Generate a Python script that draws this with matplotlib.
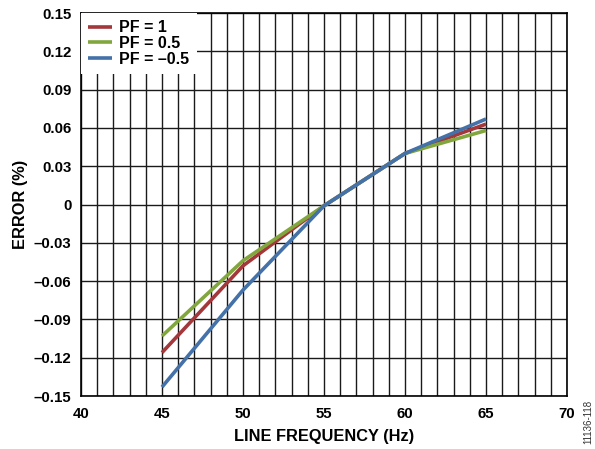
import matplotlib
matplotlib.use("Agg")
import matplotlib.pyplot as plt
import numpy as np

plt.rcParams['font.family'] = ['Liberation Sans', 'DejaVu Sans']

freq = [45, 50, 55, 60, 65]
pf_1 = [-0.116, -0.048, -0.001, 0.040, 0.063]
pf_05 = [-0.103, -0.044, -0.001, 0.040, 0.058]
pf_m05 = [-0.143, -0.067, -0.001, 0.040, 0.067]
labels = ['PF = 1', 'PF = 0.5', 'PF = \u20130.5']
colors = ['#A3373A', '#82A63E', '#4371A8']

yticks = np.round(np.arange(-0.15, 0.1501, 0.03), 2)
ytick_labels = ['\u2013%.2f' % abs(v) if v < 0 else ('0' if v == 0 else '%.2f' % v) for v in yticks]
xticks = [40, 45, 50, 55, 60, 65, 70]

fig = plt.figure(figsize=(5.95, 4.49), dpi=100)
ax = fig.add_axes([0.1361, 0.118, 0.8169, 0.853])

for yv, lab, c in zip([pf_1, pf_05, pf_m05], labels, colors):
    ax.plot(freq, yv, color=c, lw=2.6, label=lab, solid_capstyle='butt', zorder=3)

ax.set_xlim(40, 70)
ax.set_ylim(-0.15, 0.15)
ax.set_xticks(xticks)
ax.set_xticks(np.arange(40, 71, 1), minor=True)
ax.set_yticks(yticks)
ax.set_yticklabels(ytick_labels)
ax.tick_params(which='both', length=0, labelsize=10.8, pad=7)
ax.tick_params(axis='x', pad=8)
for t in ax.get_xticklabels() + ax.get_yticklabels():
    t.set_fontweight('bold')
ax.grid(which='both', axis='x', color='#1a1a1a', lw=1.0)
ax.grid(which='major', axis='y', color='#1a1a1a', lw=1.0)
for s in ax.spines.values():
    s.set_color('black')
    s.set_linewidth(1.2)

ax.set_xlabel('LINE FREQUENCY (Hz)', fontsize=11.8, fontweight='bold', labelpad=6)
ax.set_ylabel('ERROR (%)', fontsize=11.8, fontweight='bold', labelpad=4)

leg = ax.legend(loc='upper left', bbox_to_anchor=(0, 1), borderaxespad=0.0,
                frameon=True, fancybox=False, framealpha=1, edgecolor='none',
                prop={'weight': 'bold', 'size': 11.5}, handlelength=1.5,
                handletextpad=0.45, labelspacing=0.05, borderpad=0.45)
leg.set_zorder(5)

fig.text(0.988, 0.06, '11136-118', rotation=90, fontsize=7, color='#333333',
         ha='center', va='center')

fig.savefig('out.png', dpi=100)
